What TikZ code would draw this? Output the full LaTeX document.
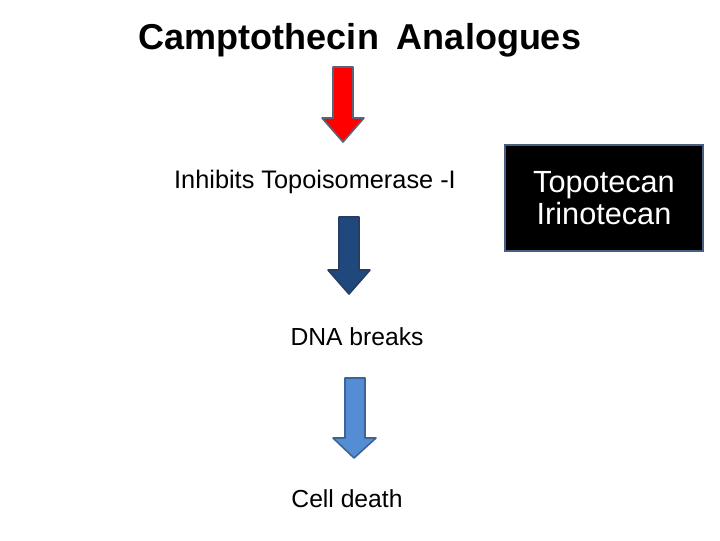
\documentclass[tikz,border=0pt]{standalone}
\usepackage{fontspec}
\setmainfont{Liberation Sans}
\begin{document}
\begin{tikzpicture}[x=0.75pt,y=-0.75pt,
  lbl/.style={font=\fontsize{18.5}{22}\selectfont, inner sep=0pt}]
\useasboundingbox (0,0) rectangle (720,540);
\node[font=\bfseries\fontsize{27}{32}\selectfont] (title) at (360,40) {Camptothecin\enspace Analogues};
\node[lbl, font=\fontsize{19}{22}\selectfont] (inh) at (315,182) {Inhibits Topoisomerase -I};
\node[lbl] (dna) at (357,337) {DNA breaks};
\node[lbl] (cell) at (347,499) {Cell death};
\draw[draw={rgb,255:red,70;green,95;blue,130}, line width=1.5pt, fill=black] (505,145) rectangle (703,251);
\node[text=white, align=center, font=\fontsize{23}{24}\selectfont] (boxtext) at (604,198) {Topotecan\\Irinotecan};
\draw[draw={rgb,255:red,90;green,100;blue,120}, line width=1.2pt, fill=red, line join=round]
  (333,67) -- (353,67) -- (353,118) -- (364,118) -- (343,142) -- (322,118) -- (333,118) -- cycle;
\draw[draw={rgb,255:red,40;green,60;blue,100}, line width=1.2pt, fill={rgb,255:red,31;green,73;blue,125}, line join=round]
  (339,217) -- (359,217) -- (359,270) -- (370,270) -- (349,294) -- (328,270) -- (339,270) -- cycle;
\draw[draw={rgb,255:red,60;green,100;blue,150}, line width=1.2pt, fill={rgb,255:red,84;green,141;blue,212}, line join=round]
  (345,378) -- (365,378) -- (365,438) -- (376,438) -- (354,458) -- (333,438) -- (345,438) -- cycle;
\end{tikzpicture}
\end{document}
